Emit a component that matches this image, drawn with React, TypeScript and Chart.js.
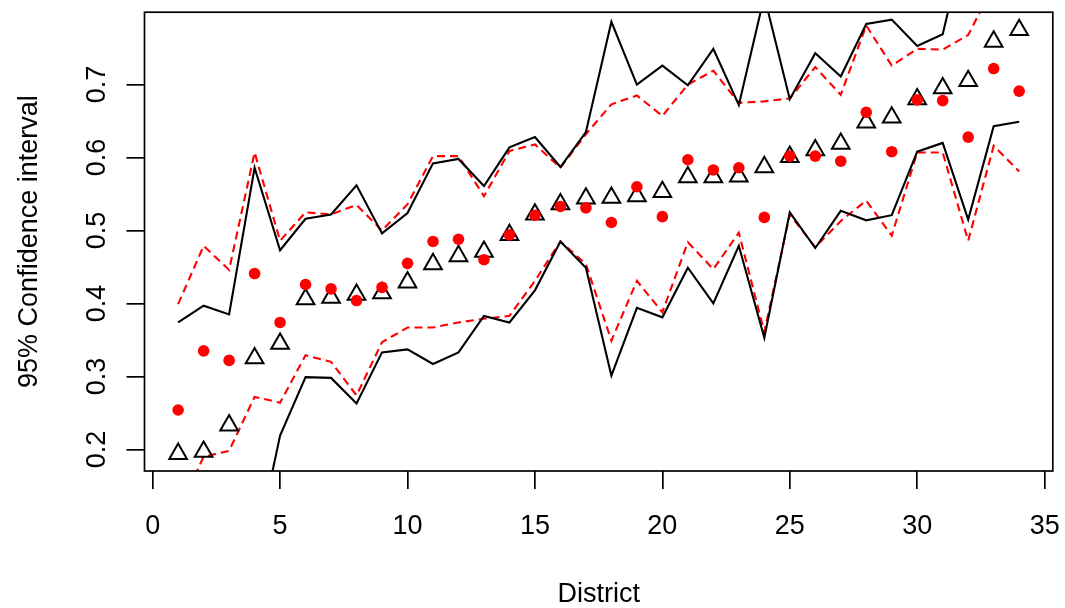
import React, { useEffect, useRef } from "react";
import { Chart, registerables } from "chart.js";

Chart.register(...registerables);

const districts = [1, 2, 3, 4, 5, 6, 7, 8, 9, 10, 11, 12, 13, 14, 15, 16, 17, 18, 19, 20, 21, 22, 23, 24, 25, 26, 27, 28, 29, 30, 31, 32, 33, 34];

const estimateA = [0.194, 0.197, 0.233, 0.325, 0.345, 0.406, 0.408, 0.412, 0.414, 0.429, 0.454, 0.465, 0.471, 0.494, 0.522, 0.536, 0.544, 0.545, 0.547, 0.553, 0.573, 0.573, 0.574, 0.587, 0.601, 0.610, 0.619, 0.648, 0.655, 0.680, 0.695, 0.705, 0.759, 0.775];
const estimateB = [0.254, 0.335, 0.322, 0.441, 0.374, 0.426, 0.420, 0.404, 0.422, 0.455, 0.485, 0.488, 0.460, 0.494, 0.521, 0.533, 0.531, 0.511, 0.560, 0.519, 0.597, 0.583, 0.586, 0.518, 0.602, 0.602, 0.595, 0.662, 0.608, 0.679, 0.678, 0.628, 0.722, 0.691];

const upperA = [0.374, 0.397, 0.385, 0.586, 0.473, 0.516, 0.522, 0.562, 0.496, 0.524, 0.592, 0.598, 0.561, 0.614, 0.628, 0.587, 0.635, 0.786, 0.700, 0.726, 0.699, 0.749, 0.672, 0.821, 0.680, 0.743, 0.711, 0.783, 0.789, 0.753, 0.769, 0.916, 0.875, 0.900];
const lowerA = [0.014, 0.000, 0.080, 0.055, 0.219, 0.299, 0.298, 0.263, 0.333, 0.337, 0.317, 0.333, 0.383, 0.374, 0.418, 0.485, 0.449, 0.301, 0.394, 0.381, 0.449, 0.400, 0.479, 0.353, 0.525, 0.476, 0.527, 0.514, 0.521, 0.608, 0.620, 0.515, 0.643, 0.649];

const upperB = [0.399, 0.479, 0.446, 0.607, 0.486, 0.525, 0.522, 0.535, 0.500, 0.536, 0.602, 0.602, 0.547, 0.609, 0.618, 0.586, 0.632, 0.673, 0.685, 0.657, 0.700, 0.719, 0.675, 0.677, 0.681, 0.724, 0.686, 0.781, 0.726, 0.749, 0.748, 0.768, 0.836, 0.810];
const lowerB = [0.115, 0.190, 0.198, 0.272, 0.264, 0.329, 0.320, 0.274, 0.347, 0.367, 0.367, 0.374, 0.379, 0.383, 0.431, 0.485, 0.454, 0.349, 0.431, 0.388, 0.484, 0.447, 0.497, 0.361, 0.522, 0.477, 0.513, 0.541, 0.493, 0.607, 0.607, 0.486, 0.616, 0.581];

const xTickValues = [0, 5, 10, 15, 20, 25, 30, 35];
const xTickLabels = ["0", "5", "10", "15", "20", "25", "30", "35"];
const yTickValues = [0.2, 0.3, 0.4, 0.5, 0.6, 0.7];
const yTickLabels = ["0.2", "0.3", "0.4", "0.5", "0.6", "0.7"];

const xTitle = "District";
const yTitle = "95% Confidence interval";

const FONT = '27px "Liberation Sans", Arial, Helvetica, sans-serif';

const pts = (ys: number[]) => districts.map((d, i) => ({ x: d, y: ys[i] }));

const rStylePlugin = {
  id: "rStyle",
  afterDraw(chart: any) {
    const { ctx, chartArea } = chart;
    const xs = chart.scales.x;
    const ys = chart.scales.y;
    ctx.save();
    ctx.strokeStyle = "#000";
    ctx.lineWidth = 1.7;
    ctx.strokeRect(chartArea.left, chartArea.top, chartArea.right - chartArea.left, chartArea.bottom - chartArea.top);
    ctx.fillStyle = "#000";
    ctx.font = FONT;
    ctx.textBaseline = "alphabetic";
    ctx.textAlign = "center";
    xs.ticks.forEach((t: any, i: number) => {
      const px = xs.getPixelForValue(t.value);
      ctx.fillText(xTickLabels[i], px, 533.5);
    });
    ys.ticks.forEach((t: any, i: number) => {
      const py = ys.getPixelForValue(t.value);
      ctx.save();
      ctx.translate(104.5, py);
      ctx.rotate(-Math.PI / 2);
      ctx.fillText(yTickLabels[i], 0, 0);
      ctx.restore();
    });
    ctx.fillText(xTitle, (chartArea.left + chartArea.right) / 2, 601.7);
    ctx.save();
    ctx.translate(36.7, (chartArea.top + chartArea.bottom) / 2);
    ctx.rotate(-Math.PI / 2);
    ctx.fillText(yTitle, 0, 0);
    ctx.restore();
    ctx.restore();
  },
};

export default function App() {
  const ref = useRef<HTMLCanvasElement>(null);
  useEffect(() => {
    if (!ref.current) return;
    const lineDs = (data: number[], color: string, dash: number[]) => ({
      type: "line" as const,
      data: pts(data),
      borderColor: color,
      borderWidth: 2.1,
      borderDash: dash,
      pointRadius: 0,
      fill: false,
      tension: 0,
      showLine: true,
    });
    const chart = new Chart(ref.current, {
      type: "scatter",
      data: {
        datasets: [
          {
            label: "estimate B",
            data: pts(estimateB),
            pointStyle: "circle",
            pointRadius: 5.8,
            backgroundColor: "#ff0000",
            borderColor: "#ff0000",
            borderWidth: 0,
          },
          {
            label: "estimate A",
            data: pts(estimateA),
            pointStyle: "triangle",
            pointRadius: 10.2,
            backgroundColor: "rgba(0,0,0,0)",
            borderColor: "#000000",
            borderWidth: 2,
          },
          { label: "upper A", ...lineDs(upperA, "#000000", []) },
          { label: "lower A", ...lineDs(lowerA, "#000000", []) },
          { label: "upper B", ...lineDs(upperB, "#ff0000", [8, 5]) },
          { label: "lower B", ...lineDs(lowerB, "#ff0000", [8, 5]) },
        ] as any,
      },
      options: {
        animation: false,
        responsive: false,
        devicePixelRatio: 1,
        layout: { padding: { left: 0, top: 10.7, right: 11.7, bottom: 0 } },
        plugins: { legend: { display: false }, tooltip: { enabled: false } },
        scales: {
          x: {
            type: "linear",
            min: -0.32,
            max: 35.32,
            afterBuildTicks: (s: any) => {
              s.ticks = xTickValues.map((v) => ({ value: v }));
            },
            afterFit: (s: any) => {
              s.height = 137;
            },
            ticks: { display: false },
            border: { display: false },
            grid: {
              display: true,
              drawOnChartArea: false,
              drawTicks: true,
              tickLength: 18,
              color: "#000",
              lineWidth: 1.7,
            },
          },
          y: {
            type: "linear",
            min: 0.1704,
            max: 0.7992,
            afterBuildTicks: (s: any) => {
              s.ticks = yTickValues.map((v) => ({ value: v }));
            },
            afterFit: (s: any) => {
              s.width = 144.5;
            },
            ticks: { display: false },
            border: { display: false },
            grid: {
              display: true,
              drawOnChartArea: false,
              drawTicks: true,
              tickLength: 18,
              color: "#000",
              lineWidth: 1.7,
            },
          },
        },
      } as any,
      plugins: [rStylePlugin],
    });
    return () => chart.destroy();
  }, []);
  return (
    <div style={{ position: "fixed", left: 0, top: 0, width: 1065, height: 608, background: "#fff" }}>
      <canvas ref={ref} width={1065} height={608} style={{ width: 1065, height: 608, display: "block" }} />
    </div>
  );
}
